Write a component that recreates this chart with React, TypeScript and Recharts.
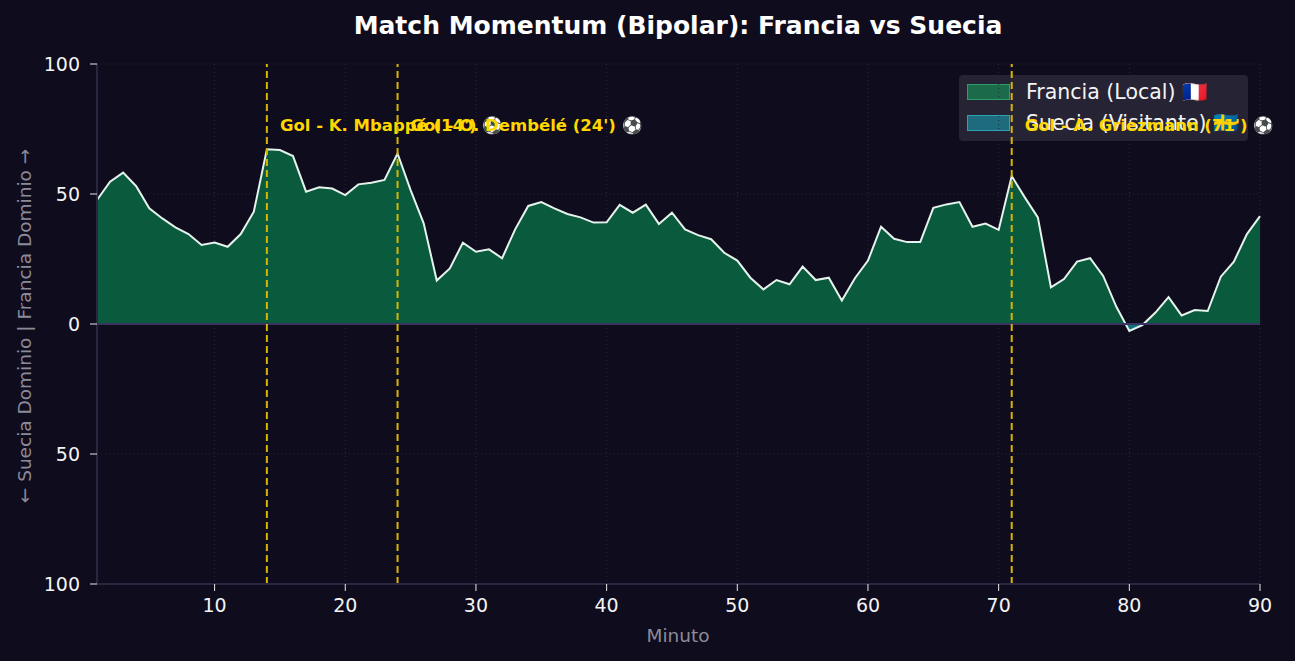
import React from 'react';
import { AreaChart, Area, XAxis, YAxis, CartesianGrid, ReferenceLine } from 'recharts';

const minutes = Array.from({ length: 90 }, (_, i) => i + 1);

// positive = Francia dominance, negative = Suecia dominance
const momentum = [
  47.7, 54.7, 58.2, 53.0, 44.5, 40.6, 37.2, 34.6, 30.4, 31.3,
  29.7, 34.6, 43.2, 67.2, 66.9, 64.6, 50.9, 52.6, 52.1, 49.6,
  53.7, 54.3, 55.4, 65.6, 51.5, 38.7, 16.7, 21.4, 31.3, 27.8,
  28.7, 25.3, 36.4, 45.4, 46.9, 44.5, 42.3, 41.0, 39.0, 39.1,
  45.8, 42.8, 45.9, 38.5, 42.8, 36.4, 34.2, 32.6, 27.4, 24.4,
  17.8, 13.3, 16.9, 15.3, 22.1, 16.9, 17.8, 9.0, 17.6, 24.4,
  37.4, 32.8, 31.5, 31.5, 44.7, 46.0, 46.9, 37.4, 38.6, 36.2,
  56.9, 48.7, 41.0, 14.1, 17.3, 24.0, 25.3, 18.5, 6.7, -2.7,
  -0.4, 4.4, 10.3, 3.3, 5.4, 5.0, 18.2, 24.0, 34.6, 41.5,
];

const xTicks = [10, 20, 30, 40, 50, 60, 70, 80, 90];
const yTicks = [-100, -50, 0, 50, 100];

const goalMinutes = [14, 24, 71];
const goalLabels = [
  "Gol - K. Mbappé (14') ⚽",
  "Gol - O. Dembélé (24') ⚽",
  "Gol - A. Griezmann (71') ⚽",
];

const legendItems = [
  { name: 'Francia (Local) 🇫🇷', fill: '#1b6b4b', stroke: '#2b9e6a' },
  { name: 'Suecia (Visitante) 🇸🇪', fill: '#1d6b7c', stroke: '#2aa4b4' },
];

const data = minutes.map((m, i) => ({ minute: m, momentum: momentum[i] }));

const FONT = '"DejaVu Sans", sans-serif';
const BG = '#0f0c1d';

const maxV = Math.max(...momentum);
const minV = Math.min(...momentum);
const zeroOffset = maxV / (maxV - minV);

const GoalLabel = (props: any) => {
  const { viewBox, text } = props;
  if (!viewBox) return null;
  return (
    <text
      x={viewBox.x + 13}
      y={viewBox.y + 61}
      fill="#ffd700"
      fontSize={16.5}
      fontWeight="bold"
      fontFamily={FONT}
      dominantBaseline="central"
    >
      {text}
    </text>
  );
};

export default function App() {
  return (
    <div
      style={{
        position: 'fixed',
        left: 0,
        top: 0,
        width: 1295,
        height: 661,
        background: BG,
        fontFamily: FONT,
        overflow: 'hidden',
      }}
    >
      {/* legend sits under the svg so the goal line/label draw over it */}
      <div
        style={{
          position: 'absolute',
          left: 959,
          top: 75,
          width: 289,
          height: 66,
          background: '#262335',
          borderRadius: 4,
        }}
      >
        {legendItems.map((it, i) => (
          <div key={it.name} style={{ position: 'absolute', left: 8, top: 9 + i * 31, display: 'flex', alignItems: 'center' }}>
            <div
              style={{
                width: 41,
                height: 14,
                background: it.fill,
                border: `1px solid ${it.stroke}`,
              }}
            />
            <span style={{ marginLeft: 16, color: '#f4f4f4', fontSize: 20.5, lineHeight: '16px', whiteSpace: 'nowrap' }}>{it.name}</span>
          </div>
        ))}
      </div>

      <div style={{ position: 'absolute', left: 0, top: 0 }}>
        <AreaChart width={1295} height={661} data={data} margin={{ top: 64, right: 35, bottom: 47, left: 37 }}>
          <defs>
            <linearGradient id="splitFill" x1="0" y1="0" x2="0" y2="1">
              <stop offset={zeroOffset} stopColor="#0a5a3d" stopOpacity={1} />
              <stop offset={zeroOffset} stopColor="#14707f" stopOpacity={1} />
            </linearGradient>
          </defs>
          <CartesianGrid stroke="#2a2742" strokeDasharray="1 3" />
          <XAxis
            dataKey="minute"
            type="number"
            domain={[1, 90]}
            ticks={xTicks}
            height={30}
            stroke="#2a2640"
            strokeWidth={2}
            tickLine={{ stroke: '#e8e8e8', strokeWidth: 1 }}
            tickSize={7}
            tickMargin={8}
            tick={{ fill: '#f4f4f4', fontSize: 19, fontFamily: FONT }}
          />
          <YAxis
            type="number"
            domain={[-100, 100]}
            ticks={yTicks}
            width={60}
            stroke="#2a2640"
            strokeWidth={2}
            tickLine={{ stroke: '#e8e8e8', strokeWidth: 1 }}
            tickSize={7}
            tickMargin={10}
            tickFormatter={(v: number) => String(Math.abs(v))}
            tick={{ fill: '#f4f4f4', fontSize: 19, fontFamily: FONT }}
          />
          <Area
            type="linear"
            dataKey="momentum"
            baseValue={0}
            stroke="#e6f2ec"
            strokeWidth={2}
            fill="url(#splitFill)"
            fillOpacity={1}
            isAnimationActive={false}
            dot={false}
            activeDot={false}
          />
          <ReferenceLine y={0} stroke="#3a3462" strokeWidth={2} />
          {goalMinutes.map((m, i) => (
            <ReferenceLine
              key={m}
              x={m}
              stroke="#d9b500"
              strokeWidth={2}
              strokeDasharray="7 4"
              label={(p: any) => <GoalLabel {...p} text={goalLabels[i]} />}
            />
          ))}
        </AreaChart>
      </div>

      <div
        style={{
          position: 'absolute',
          left: 0,
          width: 1356,
          top: 11,
          textAlign: 'center',
          color: '#ffffff',
          fontSize: 25,
          fontWeight: 'bold',
        }}
      >
        Match Momentum (Bipolar): Francia vs Suecia
      </div>
      <div
        style={{
          position: 'absolute',
          left: 0,
          width: 1356,
          top: 625,
          textAlign: 'center',
          color: '#8c8a98',
          fontSize: 18.5,
        }}
      >
        Minuto
      </div>
      <div
        style={{
          position: 'absolute',
          left: 24,
          top: 326,
          transform: 'translate(-50%, -50%) rotate(-90deg)',
          whiteSpace: 'nowrap',
          color: '#8c8a98',
          fontSize: 18.5,
        }}
      >
        ← Suecia Dominio | Francia Dominio →
      </div>
    </div>
  );
}
